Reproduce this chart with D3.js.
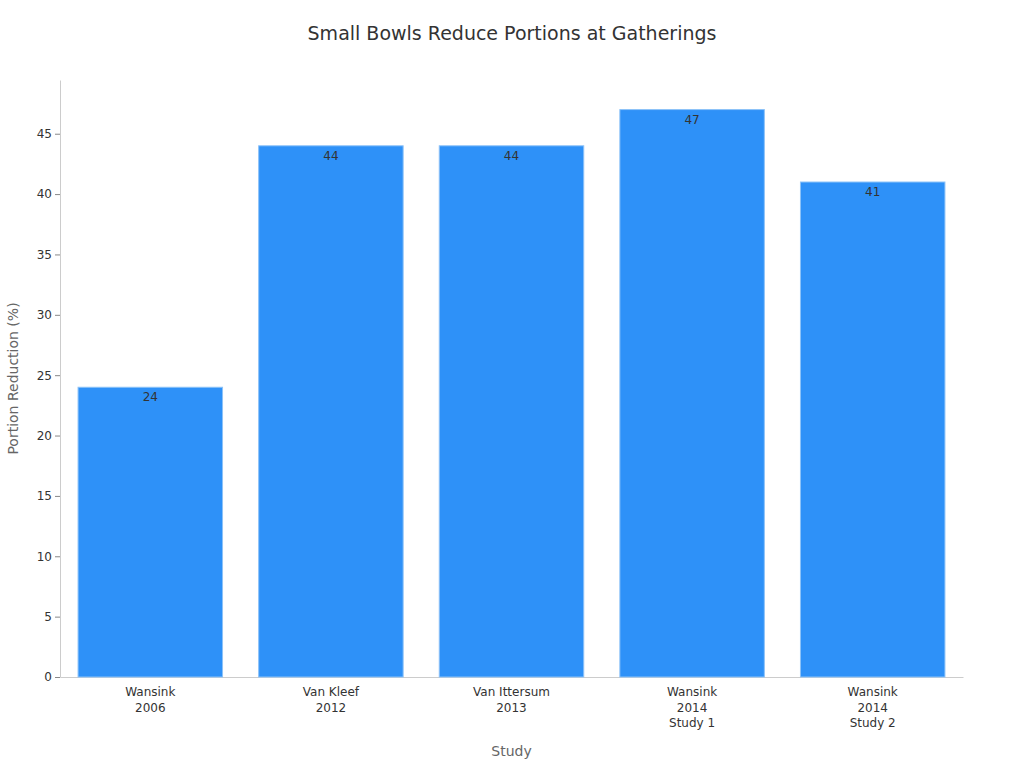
<!DOCTYPE html>
<html><head><meta charset="utf-8">
<script src="https://cdn.jsdelivr.net/npm/d3@7"></script>
<style>body{margin:0;background:#fff;font-family:"DejaVu Sans",sans-serif}</style>
</head><body><svg id="chart" width="1024" height="768"></svg>
<script>
const studies = [["Wansink","2006"],["Van Kleef","2012"],["Van Ittersum","2013"],["Wansink","2014","Study 1"],["Wansink","2014","Study 2"]]
const reductions = [24, 44, 44, 47, 41]
const yTicks = [0,5,10,15,20,25,30,35,40,45]

const svg = d3.select("#chart")
const m = {left: 60, right: 963, top: 80, bottom: 677}

const x = d3.scaleBand().domain(d3.range(studies.length)).range([m.left, m.right]).paddingInner(0.2).paddingOuter(0.1)
const y = d3.scaleLinear().domain([0, 49.45]).range([m.bottom, m.top])

svg.append("text").attr("x", 512).attr("y", 40).attr("text-anchor", "middle")
  .attr("font-size", 19).attr("fill", "#333").text("Small Bowls Reduce Portions at Gatherings")

const yAxis = svg.append("g").attr("transform", `translate(${m.left},0)`)
  .call(d3.axisLeft(y).tickValues(yTicks).tickSize(5).tickSizeOuter(0))
yAxis.select(".domain").attr("stroke", "#ccc")
yAxis.selectAll(".tick line").attr("stroke", "#888")
yAxis.selectAll("text").attr("font-size", 12).attr("fill", "#333").attr("font-family", "DejaVu Sans")

const xAxis = svg.append("g").attr("transform", `translate(0,${m.bottom})`)
  .call(d3.axisBottom(x).tickSize(0).tickSizeOuter(0).tickFormat(""))
xAxis.select(".domain").attr("stroke", "#ccc")

svg.selectAll("rect.bar").data(reductions).join("rect").attr("class", "bar")
  .attr("x", (d, i) => x(i)).attr("width", x.bandwidth())
  .attr("y", d => y(d)).attr("height", d => y(0) - y(d))
  .attr("fill", "#2e91f8").attr("stroke", "#8cc2f8").attr("stroke-width", 1)

svg.selectAll("text.val").data(reductions).join("text").attr("class", "val")
  .attr("x", (d, i) => x(i) + x.bandwidth() / 2).attr("y", d => y(d) + 14)
  .attr("text-anchor", "middle").attr("font-size", 12).attr("fill", "#333").text(d => d)

studies.forEach((lines, i) => {
  const t = svg.append("text").attr("x", x(i) + x.bandwidth() / 2).attr("y", 696)
    .attr("text-anchor", "middle").attr("font-size", 12).attr("fill", "#333")
  lines.forEach((l, j) => t.append("tspan").attr("x", x(i) + x.bandwidth() / 2).attr("dy", j ? 15.5 : 0).text(l))
})

svg.append("text").attr("x", (m.left + m.right) / 2).attr("y", 756).attr("text-anchor", "middle")
  .attr("font-size", 14).attr("fill", "#666").text("Study")
svg.append("text").attr("transform", `translate(18,${(m.top + m.bottom) / 2}) rotate(-90)`)
  .attr("text-anchor", "middle").attr("font-size", 14).attr("fill", "#666").text("Portion Reduction (%)")
</script></body></html>
